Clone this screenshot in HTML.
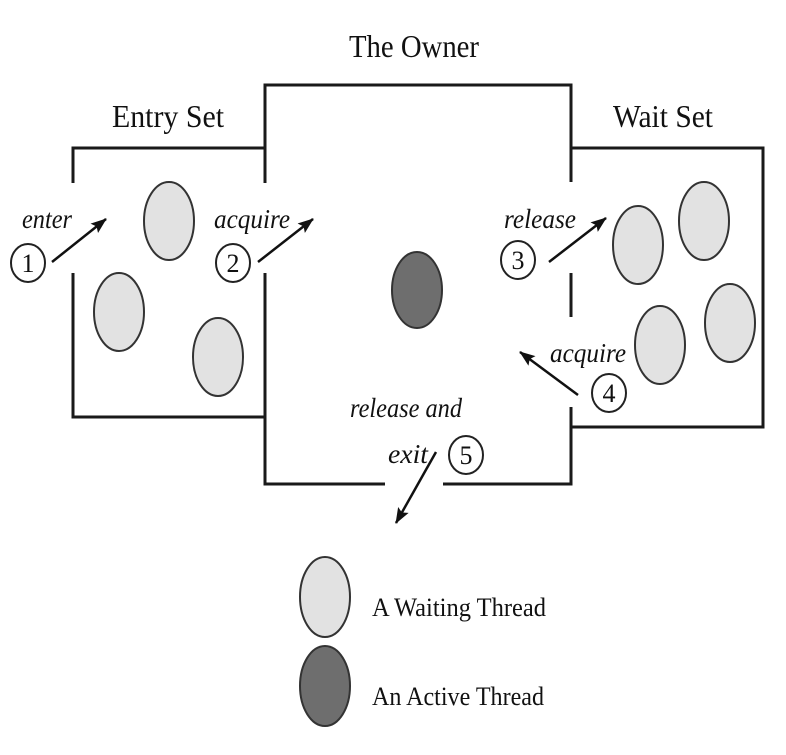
<!DOCTYPE html>
<html><head><style>body{margin:0;background:#fff}</style></head><body>
<svg width="786" height="750" xmlns="http://www.w3.org/2000/svg" font-family="Liberation Serif, serif">
<defs><marker id="a" markerWidth="16" markerHeight="12" refX="15" refY="6" orient="auto" markerUnits="userSpaceOnUse"><path d="M0,0 L16,6 L0,12 L3,6 z" fill="#111"/></marker></defs>
<g stroke="#1a1a1a" stroke-width="3" fill="none">
<path d="M73,183 V148 H265"/><path d="M73,273 V417 H265"/>
<path d="M265,183 V85 H571 V182"/><path d="M265,273 V484 H385"/><path d="M443,484 H571 V407"/><path d="M571,273 V317"/>
<path d="M571,148 H763 V427 H571"/>
</g>
<g fill="#e2e2e2" stroke="#333" stroke-width="2">
<ellipse cx="169" cy="221" rx="25" ry="39"/><ellipse cx="119" cy="312" rx="25" ry="39"/><ellipse cx="218" cy="357" rx="25" ry="39"/>
<ellipse cx="638" cy="245" rx="25" ry="39"/><ellipse cx="704" cy="221" rx="25" ry="39"/><ellipse cx="660" cy="345" rx="25" ry="39"/><ellipse cx="730" cy="323" rx="25" ry="39"/>
<ellipse cx="325" cy="597" rx="25" ry="40"/>
</g>
<g fill="#6e6e6e" stroke="#333" stroke-width="2"><ellipse cx="417" cy="290" rx="25" ry="38"/><ellipse cx="325" cy="686" rx="25" ry="40"/></g>
<g fill="#fff" stroke="#222" stroke-width="2">
<ellipse cx="28" cy="263" rx="17" ry="19"/><ellipse cx="233" cy="263" rx="17" ry="19"/><ellipse cx="518" cy="260" rx="17" ry="19"/><ellipse cx="609" cy="393" rx="17" ry="19"/><ellipse cx="466" cy="455" rx="17" ry="19"/>
</g>
<g font-size="26" text-anchor="middle" fill="#111">
<text x="28" y="272">1</text><text x="233" y="272">2</text><text x="518" y="269">3</text><text x="609" y="402">4</text><text x="466" y="464">5</text>
</g>
<g stroke="#111" stroke-width="2.5" marker-end="url(#a)">
<line x1="52" y1="262" x2="106" y2="219"/><line x1="258" y1="262" x2="313" y2="219"/><line x1="549" y1="262" x2="606" y2="218"/><line x1="578" y1="395" x2="520" y2="352"/><line x1="436" y1="452" x2="396" y2="523"/>
</g>
<g font-size="27" font-style="italic" fill="#111">
<text x="22" y="228" textLength="50" lengthAdjust="spacingAndGlyphs">enter</text>
<text x="214" y="228" textLength="76" lengthAdjust="spacingAndGlyphs">acquire</text>
<text x="504" y="228" textLength="72" lengthAdjust="spacingAndGlyphs">release</text>
<text x="550" y="362" textLength="76" lengthAdjust="spacingAndGlyphs">acquire</text>
<text x="350" y="417" textLength="112" lengthAdjust="spacingAndGlyphs">release and</text>
<text x="388" y="463" textLength="40" lengthAdjust="spacingAndGlyphs">exit</text>
</g>
<g font-size="32" text-anchor="middle" fill="#111">
<text x="414" y="57" textLength="130" lengthAdjust="spacingAndGlyphs">The Owner</text>
<text x="168" y="127" textLength="112" lengthAdjust="spacingAndGlyphs">Entry Set</text>
<text x="663" y="127" textLength="100" lengthAdjust="spacingAndGlyphs">Wait Set</text>
</g>
<g font-size="26" fill="#111">
<text x="372" y="616" textLength="174" lengthAdjust="spacingAndGlyphs">A Waiting Thread</text>
<text x="372" y="705" textLength="172" lengthAdjust="spacingAndGlyphs">An Active Thread</text>
</g>
</svg>
</body></html>
